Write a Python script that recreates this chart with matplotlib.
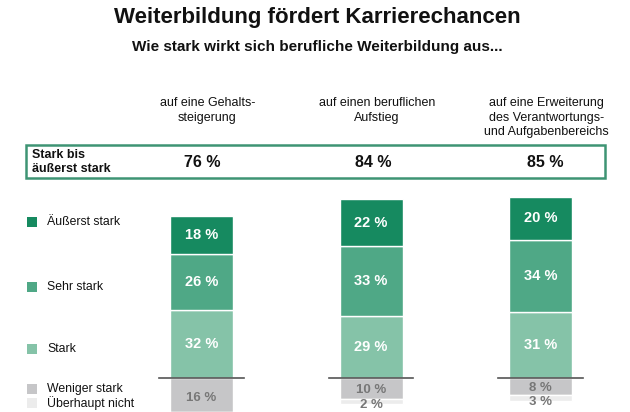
import matplotlib
matplotlib.use("Agg")
import matplotlib.pyplot as plt
from matplotlib.patches import Rectangle

plt.rcParams["font.family"] = ["Liberation Sans", "DejaVu Sans"]

# data
kategorien = ["auf eine Gehalts-\nsteigerung",
              "auf einen beruflichen\nAufstieg",
              "auf eine Erweiterung\ndes Verantwortungs-\nund Aufgabenbereichs"]
gesamt = [76, 84, 85]
stark = [32, 29, 31]
sehr_stark = [26, 33, 34]
aeusserst_stark = [18, 22, 20]
weniger_stark = [16, 10, 8]
ueberhaupt_nicht = [4, 2, 3]

legende = ["Äußerst stark", "Sehr stark", "Stark", "Weniger stark", "Überhaupt nicht"]
farben = ["#168a60", "#4fa886", "#85c3a8", "#c6c6c8", "#ececec"]

W, H = 630, 412
fig = plt.figure(figsize=(W / 100, H / 100), dpi=100)

def fy(py):
    return 1 - py / H

fig.text(0.503, fy(18), "Weiterbildung fördert Karrierechancen", ha="center", va="center",
         fontsize=16, fontweight="bold", color="#111111")
fig.text(0.503, fy(47), "Wie stark wirkt sich berufliche Weiterbildung aus...", ha="center",
         va="center", fontsize=11, fontweight="bold", color="#111111")

# bars
ax = fig.add_axes([0, 0, 1, fy(190)])
px_per = 2.13
ax.set_ylim(-(H - 378) / px_per, (378 - 190) / px_per)
ax.set_xlim(-201.5 / 169.5, (630 - 201.5) / 169.5)
ax.axis("off")

x = list(range(len(kategorien)))
bw = 63 / 169.5
bottom = [0, 0, 0]
for werte, farbe in [(stark, farben[2]), (sehr_stark, farben[1]), (aeusserst_stark, farben[0])]:
    ax.bar(x, werte, bw, bottom=bottom, color=farbe, edgecolor="white", linewidth=1)
    for i, v in enumerate(werte):
        ax.text(x[i], bottom[i] + v / 2, f"{v} %", ha="center", va="center",
                color="white", fontsize=10.5, fontweight="bold")
    bottom = [b + v for b, v in zip(bottom, werte)]

neg_w = [-v for v in weniger_stark]
ax.bar(x, neg_w, bw, color=farben[3], edgecolor="white", linewidth=1)
ax.bar(x, [-v for v in ueberhaupt_nicht], bw, bottom=neg_w, color=farben[4],
       edgecolor="white", linewidth=1)
for i in x:
    ax.text(x[i], -weniger_stark[i] / 2 - (1.5 if i == 0 else 0.7), f"{weniger_stark[i]} %",
            ha="center", va="center", color="#777777", fontsize=9.5, fontweight="bold")
    if i > 0:
        ax.text(x[i], -weniger_stark[i] - ueberhaupt_nicht[i] / 2 - 1.6, f"{ueberhaupt_nicht[i]} %",
                ha="center", va="center", color="#777777", fontsize=9.5, fontweight="bold")
    ax.plot([x[i] - 0.248, x[i] + 0.248], [0, 0], color="#555555", lw=1.2, zorder=5)

# column headers
for i, k in enumerate(kategorien):
    cx = (201.5 + 169.5 * i + 6) / W
    fig.text(cx, fy(97), k, ha="center", va="top", fontsize=9, color="#111111",
             linespacing=1.3)

# summary box
box = Rectangle((26 / W, fy(178)), (605 - 26) / W, (178 - 145) / H, transform=fig.transFigure,
                fill=False, edgecolor="#3e9474", linewidth=1.8)
fig.add_artist(box)
fig.text(32 / W, fy(162), "Stark bis\näußerst stark", ha="left", va="center", fontsize=9,
         fontweight="bold", color="#111111", linespacing=1.2)
for i, g in enumerate(gesamt):
    fig.text((202 + 171.5 * i) / W, fy(163), f"{g} %", ha="center", va="center",
             fontsize=11.5, fontweight="bold", color="#111111")

# legend
leg_y = [222, 287, 349, 389, 403]
for lbl, farbe, py in zip(legende, farben, leg_y):
    fig.add_artist(Rectangle((27 / W, fy(py + 5)), 10 / W, 10 / H, transform=fig.transFigure,
                             facecolor=farbe, edgecolor="none"))
    fig.text(47 / W, fy(py), lbl, ha="left", va="center", fontsize=8.8, color="#111111")

fig.savefig("out.png", dpi=100)
